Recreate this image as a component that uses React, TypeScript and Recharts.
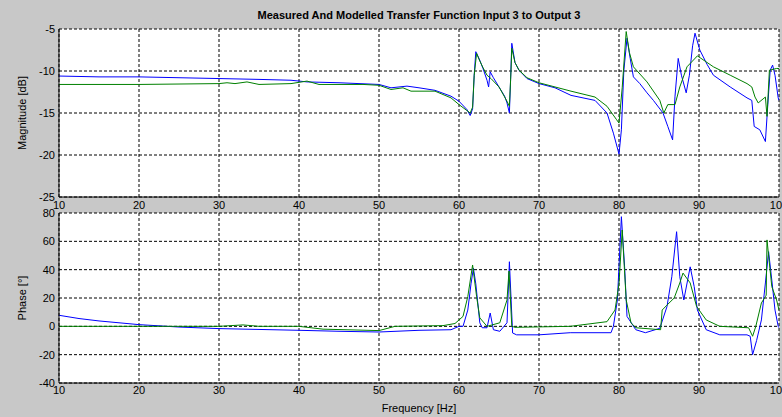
import React from 'react';
import { LineChart, Line, XAxis, YAxis, CartesianGrid } from 'recharts';

const freqTicks = [10, 20, 30, 40, 50, 60, 70, 80, 90, 100];
const magTicks = [-25, -20, -15, -10, -5];
const phaseTicks = [-40, -20, 0, 20, 40, 60, 80];

const magMeasuredFreq = [10, 15, 20, 25, 30, 35, 39, 41, 45, 50, 51.5, 53.5, 55, 57, 59, 60, 61, 61.4, 61.7, 61.9, 62.1, 62.5, 63.0, 63.5, 63.7, 63.9, 64.3, 65.0, 65.7, 66.0, 66.3, 66.45, 66.6, 67.0, 67.5, 68.5, 70, 72, 74, 77, 78.5, 79.3, 80.0, 80.3, 80.6, 81.0, 81.4, 81.8, 82.6, 83.5, 84.3, 85.5, 86.1, 86.7, 87.0, 87.4, 87.8, 88.4, 88.8, 89.2, 89.5, 90.1, 91, 91.8, 93.9, 96.0, 96.6, 96.9, 97.6, 98.3, 98.6, 98.9, 99.2, 99.5, 99.9, 100];
const magMeasured = [-10.6, -10.7, -10.7, -10.8, -10.9, -11.0, -11.1, -11.3, -11.4, -11.6, -12.0, -11.8, -12.0, -12.3, -13.0, -13.6, -14.6, -15.3, -14.5, -10.5, -7.7, -8.5, -9.7, -11.1, -11.9, -10.1, -10.8, -11.9, -13.0, -13.8, -15.0, -11, -6.7, -9.0, -9.9, -10.9, -11.5, -12.0, -12.9, -13.5, -15.0, -17.4, -19.9, -17, -10, -6.1, -8.5, -10.7, -11.5, -12.6, -13.5, -15.0, -16.6, -18.2, -13, -8.5, -10.5, -12.6, -10.5, -7, -5.5, -7.5, -9.2, -10.5, -11.9, -13.2, -13.5, -16.6, -17.0, -18.4, -14, -9.9, -9.3, -10.5, -13.2, -13.5];

const magModelFreq = [10, 20, 30, 31, 32, 33.5, 35, 39, 41, 42.5, 48, 50, 51.5, 53, 54, 57, 59, 60, 61.4, 61.7, 61.9, 62.2, 62.5, 63.0, 63.5, 64.0, 65.0, 66.0, 66.3, 66.5, 66.6, 67.0, 67.5, 68.5, 70, 72, 74, 77, 78.5, 79.7, 80.0, 80.4, 80.9, 81.3, 81.8, 83.5, 85.1, 85.6, 86.1, 87.0, 87.6, 88.5, 89.8, 91.8, 93.9, 96.0, 96.6, 97.0, 97.4, 98.3, 98.5, 98.8, 99.7, 100];
const magModel = [-11.6, -11.6, -11.5, -11.4, -11.5, -11.3, -11.6, -11.5, -11.2, -11.6, -11.6, -11.7, -12.2, -12.0, -12.4, -12.4, -13.2, -14.0, -15.0, -14.3, -10.5, -7.9, -8.6, -9.6, -10.5, -10.9, -11.9, -13.6, -14.2, -10, -7.3, -9.0, -9.9, -10.8, -11.4, -11.9, -12.4, -13.1, -14.2, -15.8, -16.2, -12, -5.3, -7.8, -9.5, -11.3, -13.5, -15.0, -14.0, -14.0, -11.9, -9.5, -8.2, -9.5, -10.5, -11.5, -11.9, -13.1, -13.8, -13.1, -15.4, -9.9, -9.7, -9.7];

const phaseMeasuredFreq = [10, 12.5, 15, 20, 25, 30, 35, 40, 45, 50, 55, 59, 60, 60.5, 61.1, 61.5, 61.8, 62.1, 62.6, 62.9, 63.5, 63.9, 64.3, 65.1, 66.0, 66.3, 66.7, 67.2, 70, 73.9, 79.0, 79.3, 79.8, 80.3, 80.7, 81.0, 82.1, 83.3, 85.1, 86.0, 86.6, 87.2, 87.6, 88.1, 88.9, 89.4, 89.8, 90.9, 92.6, 96.0, 96.4, 96.7, 97.2, 97.8, 98.3, 98.7, 99.1, 99.5, 99.9, 100];
const phaseMeasured = [7.8, 5.5, 3.8, 1.2, -0.5, -1.6, -2.2, -2.8, -3.5, -4.0, -2.8, -2.4, 0, 0, 11.5, 30, 41, 30, 2.5, -1, -1, 9.4, -2.4, -3.5, 2.5, 45.6, -4.7, -6, -6, -4.5, -4.5, 0, 18.6, 77.4, 42, 7, -2.4, -4.5, -1.4, 14, 35, 66.8, 35, 18.6, 42, 28, 11.5, -2.4, -6, -6, -7, -20, -10, 4.5, 30.6, 52.7, 32.6, 11.5, 0, -1];

const phaseModelFreq = [10, 30, 33, 35, 40, 43, 50, 52, 58, 59.5, 60.5, 61.1, 61.7, 62.2, 62.6, 63.5, 65.1, 66.0, 66.25, 66.6, 67, 73.9, 78.5, 79.5, 80.0, 80.4, 80.9, 81.5, 82.1, 85.2, 85.4, 86.0, 86.9, 87.6, 88.0, 88.9, 89.7, 90.9, 92.6, 96.2, 96.7, 97.1, 97.8, 98.3, 98.4, 98.5, 99.1, 99.7, 100];
const phaseModel = [0, 0, 1, 0, 0, -2, -3, 0, 0.5, 2, 7, 21, 43.3, 21, 6, 0, 2.5, 18.6, 39, 0, -0.7, 0, 3.3, 11.5, 30, 68, 18.6, 2.5, -1, -2.4, 11.5, 15, 20, 30.6, 37.6, 30.6, 14, 4.5, 0, -1, -7, 0, 16.5, 21, 22, 61, 28, 18.6, 11.5];

const toRows = (fs: number[], vs: number[]) => fs.map((f, i) => ({ f, v: vs[i] }));

const magMeasuredData = toRows(magMeasuredFreq, magMeasured);
const magModelData = toRows(magModelFreq, magModel);
const phaseMeasuredData = toRows(phaseMeasuredFreq, phaseMeasured);
const phaseModelData = toRows(phaseModelFreq, phaseModel);

const FONT = '"Liberation Sans", Arial, Helvetica, sans-serif';
const BG = '#c8c8c8';
const tickStyle = { fontSize: 11, fill: '#000', fontFamily: FONT };

export default function App() {
  return (
    <div style={{ position: 'fixed', left: 0, top: 0, width: 782, height: 417, background: BG, fontFamily: FONT, overflow: 'hidden' }}>
      <div style={{ position: 'absolute', left: 419, top: 9, transform: 'translateX(-50%)', fontSize: 11, fontWeight: 'bold', whiteSpace: 'nowrap', color: '#000' }}>
        Measured And Modelled Transfer Function Input 3 to Output 3
      </div>
      <div style={{ position: 'absolute', left: 0, top: 0 }}>
        <LineChart width={782} height={215} margin={{ top: 29, right: 3, bottom: 0, left: 0 }}>
          <CartesianGrid stroke="#000" strokeDasharray="3 2" fill="#fff" />
          <XAxis type="number" dataKey="f" domain={[10, 100]} ticks={freqTicks} allowDataOverflow height={18}
            tick={tickStyle} tickLine={false} tickSize={0} tickMargin={4} axisLine={{ stroke: '#000' }} interval={0} />
          <YAxis type="number" dataKey="v" domain={[-25, -5]} ticks={magTicks} allowDataOverflow width={59}
            tick={tickStyle} tickLine={false} tickSize={0} tickMargin={4} axisLine={{ stroke: '#000' }} interval={0} />
          <Line data={magMeasuredData} dataKey="v" stroke="#0000ff" strokeWidth={1} dot={false} isAnimationActive={false} />
          <Line data={magModelData} dataKey="v" stroke="#008000" strokeWidth={1} dot={false} isAnimationActive={false} />
        </LineChart>
      </div>
      <div style={{ position: 'absolute', left: 0, top: 200 }}>
        <LineChart width={782} height={217} margin={{ top: 13, right: 3, bottom: 0, left: 0 }}>
          <CartesianGrid stroke="#000" strokeDasharray="3 2" fill="#fff" />
          <XAxis type="number" dataKey="f" domain={[10, 100]} ticks={freqTicks} allowDataOverflow height={34}
            tick={tickStyle} tickLine={false} tickSize={0} tickMargin={3} axisLine={{ stroke: '#000' }} interval={0} />
          <YAxis type="number" dataKey="v" domain={[-40, 80]} ticks={phaseTicks} allowDataOverflow width={59}
            tick={tickStyle} tickLine={false} tickSize={0} tickMargin={4} axisLine={{ stroke: '#000' }} interval={0} />
          <Line data={phaseMeasuredData} dataKey="v" stroke="#0000ff" strokeWidth={1} dot={false} isAnimationActive={false} />
          <Line data={phaseModelData} dataKey="v" stroke="#008000" strokeWidth={1} dot={false} isAnimationActive={false} />
        </LineChart>
      </div>
      <div style={{ position: 'absolute', left: 22, top: 113, transform: 'translate(-50%, -50%) rotate(-90deg)', fontSize: 11, whiteSpace: 'nowrap', color: '#000' }}>
        Magnitude [dB]
      </div>
      <div style={{ position: 'absolute', left: 22, top: 298, transform: 'translate(-50%, -50%) rotate(-90deg)', fontSize: 11, whiteSpace: 'nowrap', color: '#000' }}>
        Phase [°]
      </div>
      <div style={{ position: 'absolute', left: 419, top: 402, transform: 'translateX(-50%)', fontSize: 11, whiteSpace: 'nowrap', color: '#000' }}>
        Frequency [Hz]
      </div>
    </div>
  );
}
